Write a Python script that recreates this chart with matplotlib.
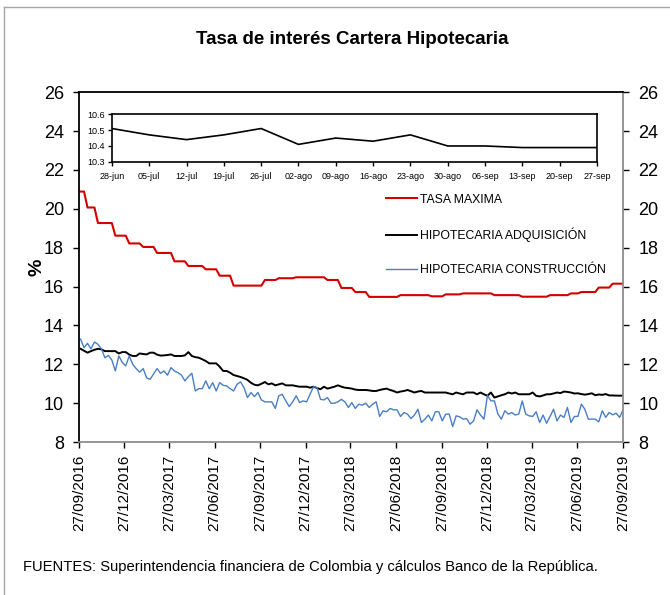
import pandas as pd
import matplotlib.pyplot as plt
from matplotlib.lines import Line2D

plt.rcParams['font.family'] = ['Liberation Sans', 'DejaVu Sans']

# series semanales (27/09/2016 - 27/09/2019)
fechas = pd.date_range(end='2019-09-27', periods=157, freq='7D')

tasa_maxima = [
    20.89, 20.89, 20.07, 20.07, 20.07, 19.27, 19.27, 19.27, 19.27, 19.27,
    18.62, 18.62, 18.62, 18.62, 18.22, 18.22, 18.22, 18.22, 18.04, 18.04,
    18.04, 18.04, 17.73, 17.73, 17.73, 17.73, 17.73, 17.30, 17.30, 17.30,
    17.30, 17.06, 17.06, 17.06, 17.06, 17.06, 16.89, 16.89, 16.89, 16.89,
    16.56, 16.56, 16.56, 16.56, 16.05, 16.05, 16.05, 16.05, 16.05, 16.05,
    16.05, 16.05, 16.05, 16.34, 16.34, 16.34, 16.34, 16.43, 16.43, 16.43,
    16.43, 16.43, 16.48, 16.48, 16.48, 16.48, 16.48, 16.48, 16.48, 16.48,
    16.48, 16.34, 16.34, 16.34, 16.34, 15.93, 15.93, 15.93, 15.93, 15.72,
    15.72, 15.72, 15.72, 15.47, 15.47, 15.47, 15.47, 15.47, 15.47, 15.47,
    15.47, 15.47, 15.56, 15.56, 15.56, 15.56, 15.56, 15.56, 15.56, 15.56,
    15.56, 15.50, 15.50, 15.50, 15.50, 15.60, 15.60, 15.60, 15.60, 15.60,
    15.65, 15.65, 15.65, 15.65, 15.65, 15.65, 15.65, 15.65, 15.65, 15.56,
    15.56, 15.56, 15.56, 15.56, 15.56, 15.56, 15.56, 15.48, 15.48, 15.48,
    15.48, 15.48, 15.48, 15.48, 15.48, 15.56, 15.56, 15.56, 15.56, 15.56,
    15.56, 15.65, 15.65, 15.65, 15.72, 15.72, 15.72, 15.72, 15.72, 15.95,
    15.95, 15.95, 15.95, 16.15, 16.15, 16.15, 16.15,
]

adquisicion = [
    12.80, 12.70, 12.60, 12.68, 12.75, 12.80, 12.77, 12.68, 12.68, 12.68,
    12.68, 12.56, 12.63, 12.63, 12.50, 12.43, 12.43, 12.56, 12.53, 12.51,
    12.60, 12.60, 12.50, 12.45, 12.46, 12.48, 12.51, 12.43, 12.43, 12.43,
    12.46, 12.63, 12.43, 12.37, 12.34, 12.26, 12.17, 12.05, 12.05, 12.05,
    11.88, 11.66, 11.66, 11.57, 11.45, 11.40, 11.35, 11.28, 11.20, 11.05,
    10.95, 10.92, 11.00, 11.09, 10.97, 11.02, 10.92, 10.97, 11.02, 10.92,
    10.92, 10.92, 10.88, 10.85, 10.85, 10.85, 10.80, 10.85, 10.78, 10.72,
    10.85, 10.75, 10.80, 10.85, 10.92, 10.85, 10.80, 10.78, 10.75, 10.70,
    10.68, 10.68, 10.68, 10.66, 10.63, 10.63, 10.68, 10.72, 10.75, 10.68,
    10.63, 10.55, 10.60, 10.63, 10.68, 10.62, 10.55, 10.60, 10.63, 10.55,
    10.55, 10.55, 10.55, 10.55, 10.55, 10.55, 10.50, 10.46, 10.55, 10.50,
    10.46, 10.55, 10.55, 10.55, 10.46, 10.55, 10.46, 10.38, 10.55, 10.29,
    10.35, 10.41, 10.46, 10.55, 10.50, 10.55, 10.46, 10.46, 10.46, 10.46,
    10.55, 10.38, 10.35, 10.40, 10.46, 10.46, 10.50, 10.55, 10.52, 10.60,
    10.58, 10.55, 10.50, 10.51, 10.47, 10.44, 10.47, 10.51, 10.41, 10.45,
    10.43, 10.47, 10.40, 10.40, 10.39, 10.39, 10.39,
]

construccion = [
    13.30, 12.86, 13.08, 12.80, 13.15, 13.03, 12.80, 12.34, 12.46, 12.22,
    11.66, 12.43, 12.10, 11.92, 12.43, 12.00, 11.78, 11.60, 11.78, 11.30,
    11.23, 11.50, 11.78, 11.54, 11.66, 11.44, 11.83, 11.66, 11.57, 11.45,
    11.15, 11.37, 11.54, 10.63, 10.75, 10.75, 11.15, 10.75, 11.06, 10.63,
    11.06, 10.92, 10.89, 10.75, 10.63, 10.97, 11.10, 10.80, 10.29, 10.55,
    10.34, 10.55, 10.17, 10.07, 10.07, 10.07, 9.73, 10.38, 10.46, 10.12,
    9.83, 10.07, 10.38, 10.03, 10.12, 10.07, 10.46, 10.86, 10.80, 10.20,
    10.17, 10.29, 10.00, 10.00, 10.07, 10.20, 10.07, 9.78, 10.03, 9.73,
    9.95, 9.90, 10.00, 9.78, 9.95, 10.07, 9.32, 9.61, 9.56, 9.73,
    9.66, 9.66, 9.32, 9.52, 9.44, 9.21, 9.39, 9.69, 9.01, 9.18,
    9.39, 9.09, 9.56, 9.56, 9.09, 9.44, 9.44, 8.80, 9.35, 9.30,
    9.18, 9.21, 8.92, 9.09, 9.66, 9.39, 9.18, 10.41, 10.12, 10.12,
    9.44, 9.18, 9.61, 9.44, 9.52, 9.39, 9.44, 10.12, 9.44, 9.35,
    9.32, 9.56, 9.01, 9.39, 8.97, 9.32, 9.69, 9.09, 9.39, 9.27,
    9.78, 9.01, 9.32, 9.32, 9.95, 9.69, 9.18, 9.18, 9.18, 9.04,
    9.61, 9.27, 9.52, 9.40, 9.49, 9.27, 9.66,
]

etiquetas_x = ['27/09/2016', '27/12/2016', '27/03/2017', '27/06/2017', '27/09/2017',
               '27/12/2017', '27/03/2018', '27/06/2018', '27/09/2018', '27/12/2018',
               '27/03/2019', '27/06/2019', '27/09/2019']

# recuadro: ultimas 14 semanas de adquisicion
inset_fechas = ['28-jun', '05-jul', '12-jul', '19-jul', '26-jul', '02-ago', '09-ago',
                '16-ago', '23-ago', '30-ago', '06-sep', '13-sep', '20-sep', '27-sep']
inset_valores = [10.51, 10.47, 10.44, 10.47, 10.51, 10.41, 10.45,
                 10.43, 10.47, 10.40, 10.40, 10.39, 10.39, 10.39]

rojo = '#D40000'
azul = '#4A7EC4'
gris = '#8C8C8C'

fig = plt.figure(figsize=(6.7, 5.95), dpi=100)
ax = fig.add_axes([0.118, 0.257, 0.812, 0.588])

ax.plot(fechas, tasa_maxima, color=rojo, lw=1.5, label='TASA MAXIMA')
ax.plot(fechas, adquisicion, color='black', lw=1.4, label='HIPOTECARIA ADQUISICIÓN')
ax.plot(fechas, construccion, color=azul, lw=1.0, label='HIPOTECARIA CONSTRUCCIÓN')

ticks_x = pd.to_datetime(etiquetas_x, dayfirst=True)
ax.set_xlim(ticks_x[0], ticks_x[-1])
ax.set_xticks(ticks_x)
ax.set_xticklabels(etiquetas_x, rotation=90, fontsize=11)
ax.set_ylim(8, 26)
ax.set_yticks(range(8, 27, 2))
ax.tick_params(axis='y', labelsize=13, length=4, width=1, pad=7, right=True, labelright=True)
ax.tick_params(axis='x', length=4, width=1, pad=5)
ax.set_ylabel('%', fontsize=14, fontweight='bold', labelpad=-1)

ax.spines['left'].set_color('black')
ax.spines['top'].set_color('black')
ax.spines['bottom'].set_color(gris)
ax.spines['right'].set_color(gris)
for s in ax.spines.values():
    s.set_linewidth(1.3)

ax.legend(loc='upper left', bbox_to_anchor=(0.567, 0.685), bbox_transform=fig.transFigure,
          frameon=False, fontsize=8.8, handlelength=2.5, handletextpad=0.3,
          labelspacing=1.8, borderpad=0)

# recuadro
ax2 = fig.add_axes([0.167, 0.728, 0.724, 0.080])
ax2.plot(range(len(inset_valores)), inset_valores, color='black', lw=1.2)
ax2.set_xlim(0, len(inset_valores) - 1)
ax2.set_ylim(10.3, 10.6)
ax2.set_yticks([10.3, 10.4, 10.5, 10.6])
ax2.set_yticklabels(['10.3', '10.4', '10.5', '10.6'])
ax2.set_xticks(range(len(inset_fechas)))
ax2.set_xticklabels(inset_fechas)
ax2.tick_params(labelsize=6.5, length=3, width=1, pad=2)
ax2.tick_params(axis='x', pad=4)
for s in ax2.spines.values():
    s.set_linewidth(1.2)

fig.text(0.526, 0.934, 'Tasa de interés Cartera Hipotecaria', ha='center', va='center',
         fontsize=13.5, fontweight='bold')
fig.text(0.035, 0.047, 'FUENTES: Superintendencia financiera de Colombia y cálculos Banco de la República.',
         ha='left', va='center', fontsize=10.6)

# marco exterior
fig.add_artist(Line2D([0.006, 0.006], [0.0, 0.988], color='#A6A6A6', lw=1))
fig.add_artist(Line2D([0.006, 1.0], [0.988, 0.988], color='#A6A6A6', lw=1))

fig.savefig('out.png', dpi=100)
